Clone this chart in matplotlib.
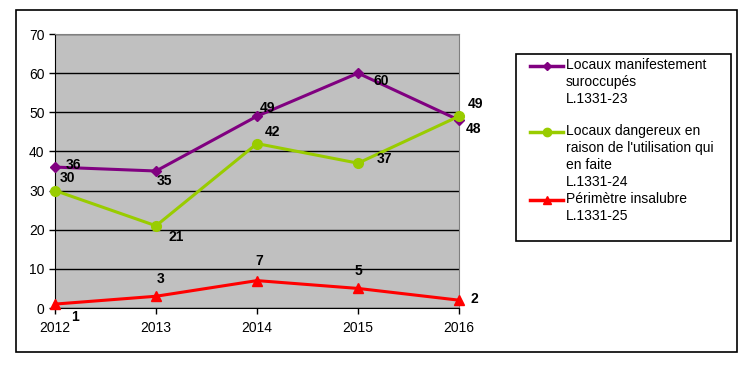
import matplotlib.pyplot as plt
from matplotlib.lines import Line2D
from matplotlib.patches import Rectangle

plt.rcParams['font.family'] = ['Liberation Sans', 'DejaVu Sans']

years = [2012, 2013, 2014, 2015, 2016]
suroccupes = [36, 35, 49, 60, 48]
dangereux = [30, 21, 42, 37, 49]
insalubre = [1, 3, 7, 5, 2]

labels = ["Locaux manifestement\nsuroccupés\nL.1331-23",
          "Locaux dangereux en\nraison de l'utilisation qui\nen faite\nL.1331-24",
          "Périmètre insalubre\nL.1331-25"]
colors = ['#800080', '#99CC00', '#FF0000']
markers = ['D', 'o', '^']
msizes = [5, 7, 7]

# label offsets in pixels (dx, dy), y up
offs = [
    [(18, 2), (8, -10), (11, 8), (23, -8), (15, -9)],
    [(12, 13), (20, -11), (15, 12), (26, 4), (17, 12)],
    [(20, -13), (5, 17), (2, 20), (0, 17), (15, 1)],
]

fig = plt.figure(figsize=(7.5, 3.66), dpi=100)
ax = fig.add_axes([55/750, 1-308/366, (459-55)/750, (308-34)/366])
ax.set_facecolor('#C0C0C0')

series = [suroccupes, dangereux, insalubre]
for s, vals in enumerate(series):
    ax.plot(years, vals, color=colors[s], marker=markers[s], markersize=msizes[s],
            lw=2.2, clip_on=False, zorder=3)
    for i, v in enumerate(vals):
        ax.annotate(str(v), (years[i], v), xytext=offs[s][i], textcoords='offset pixels',
                    ha='center', va='center', fontsize=10, fontweight='bold', zorder=4)

ax.set_xlim(2012, 2016)
ax.set_ylim(0, 70)
ax.set_xticks(years)
ax.set_yticks(range(0, 71, 10))
ax.yaxis.grid(True, color='black', lw=1)
ax.set_axisbelow(True)
ax.tick_params(axis='both', direction='out', length=4, width=1, labelsize=10, color='black')
ax.tick_params(axis='x', pad=5)
for side in ['top', 'right']:
    ax.spines[side].set_color('#808080')
ax.spines['left'].set_color('black')
ax.spines['bottom'].set_color('black')

# outer border
fig.patches.append(Rectangle((16/750, 1-352/366), (737-16)/750, (352-10)/366,
                             transform=fig.transFigure, fill=False, ec='black', lw=1.2))

# legend box
fig.patches.append(Rectangle((516/750, 1-241/366), (731-516)/750, (241-54)/366,
                             transform=fig.transFigure, fill=False, ec='black', lw=1.2))
hy = [66, 132, 200]
for s in range(3):
    y = 1 - hy[s]/366
    fig.lines.append(Line2D([530/750, 563/750], [y, y], transform=fig.transFigure,
                            color=colors[s], lw=2.5))
    fig.lines.append(Line2D([546.5/750], [y], transform=fig.transFigure,
                            color=colors[s], marker=markers[s], markersize=msizes[s] - 1))
    fig.text(566/750, 1 - (hy[s] - 8)/366, labels[s], fontsize=10, va='top', ha='left',
             linespacing=1.26)

fig.savefig('out.png', dpi=100)
